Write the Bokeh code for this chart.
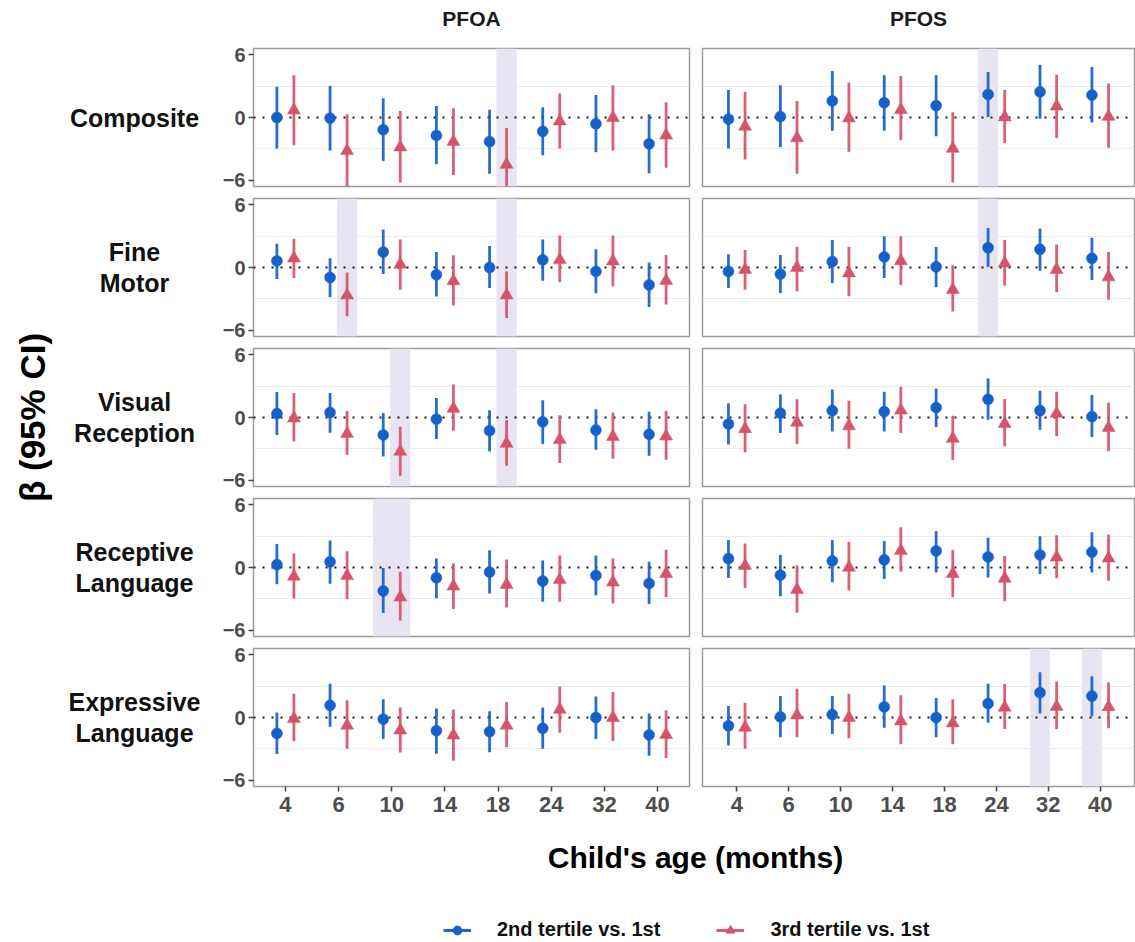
import math

from bokeh.core.properties import value
from bokeh.embed import file_html
from bokeh.layouts import column, row
from bokeh.models import (ColumnDataSource, FactorRange, FixedTicker, Label,
                          Legend, LegendItem, Range1d)
from bokeh.plotting import figure
from bokeh.resources import INLINE
from bokeh.transform import dodge

# ---------------------------------------------------------------- data
AGES = ["4", "6", "10", "14", "18", "24", "32", "40"]
EXPOSURES = ["PFOA", "PFOS"]
OUTCOMES = ["Composite", "Fine Motor", "Visual Reception",
            "Receptive Language", "Expressive Language"]
OUTCOME_LABELS = ["Composite", "Fine\nMotor", "Visual\nReception",
                  "Receptive\nLanguage", "Expressive\nLanguage"]
SERIES_LABELS = ["2nd tertile vs. 1st", "3rd tertile vs. 1st"]
Y_TICKS = [-6, 0, 6]
Y_GRID = [-3, 3]

# beta estimates with 95% CI, t2 = 2nd vs 1st tertile, t3 = 3rd vs 1st tertile
pfoa_composite = dict(
    t2_est=[0.00, -0.06, -1.17, -1.72, -2.30, -1.32, -0.60, -2.52],
    t2_lo=[-2.97, -3.16, -4.17, -4.48, -5.37, -3.60, -3.32, -5.34],
    t2_hi=[2.94, 3.03, 1.83, 1.10, 0.73, 0.98, 2.15, 0.32],
    t3_est=[0.69, -3.19, -2.85, -2.33, -4.50, -0.35, -0.03, -1.70],
    t3_lo=[-2.65, -6.70, -6.22, -5.49, -8.00, -2.97, -3.16, -4.80],
    t3_hi=[4.04, 0.32, 0.63, 0.88, -1.01, 2.30, 3.09, 1.45],
)
pfos_composite = dict(
    t2_est=[-0.16, 0.09, 1.58, 1.42, 1.14, 2.21, 2.46, 2.15],
    t2_lo=[-2.97, -2.84, -1.26, -1.26, -1.80, 0.05, -0.12, -0.47],
    t2_hi=[2.62, 3.09, 4.45, 4.04, 4.04, 4.36, 5.05, 4.83],
    t3_est=[-0.85, -1.96, -0.06, 0.73, -2.97, 0.03, 1.07, 0.09],
    t3_lo=[-4.01, -5.37, -3.28, -2.18, -6.22, -2.43, -1.96, -2.90],
    t3_hi=[2.46, 1.58, 3.35, 3.98, 0.50, 2.62, 4.10, 3.25],
)
pfoa_fine_motor = dict(
    t2_est=[0.63, -0.95, 1.48, -0.69, 0.00, 0.73, -0.38, -1.67],
    t2_lo=[-1.10, -2.84, -0.63, -2.78, -1.96, -1.26, -2.46, -3.79],
    t2_hi=[2.27, 0.88, 3.63, 1.48, 2.05, 2.68, 1.74, 0.47],
    t3_est=[0.88, -2.65, 0.28, -1.29, -2.65, 0.73, 0.60, -1.26],
    t3_lo=[-1.01, -4.67, -2.12, -3.63, -4.83, -1.42, -1.80, -3.54],
    t3_hi=[2.75, -0.47, 2.68, 1.17, -0.38, 3.06, 3.06, 1.20],
)
pfos_fine_motor = dict(
    t2_est=[-0.38, -0.63, 0.57, 1.01, 0.06, 1.89, 1.74, 0.88],
    t2_lo=[-1.96, -2.43, -1.48, -1.01, -1.89, 0.05, -0.32, -1.20],
    t2_hi=[1.26, 1.20, 2.62, 3.00, 1.96, 3.79, 3.73, 2.84],
    t3_est=[-0.22, -0.03, -0.54, 0.63, -2.12, 0.41, -0.22, -0.92],
    t3_lo=[-2.12, -2.27, -2.75, -1.67, -4.20, -1.74, -2.37, -3.09],
    t3_hi=[1.67, 1.96, 1.99, 3.00, 0.22, 2.62, 2.21, 1.48],
)
pfoa_visual_reception = dict(
    t2_est=[0.38, 0.47, -1.67, -0.16, -1.26, -0.41, -1.20, -1.61],
    t2_lo=[-1.67, -1.45, -3.73, -2.05, -3.25, -2.53, -3.09, -3.66],
    t2_hi=[2.43, 2.34, 0.44, 1.86, 0.69, 1.64, 0.79, 0.54],
    t3_est=[-0.06, -1.55, -3.25, 0.85, -2.49, -2.12, -1.83, -1.80],
    t3_lo=[-2.30, -3.57, -5.56, -1.26, -4.61, -4.36, -3.95, -4.04],
    t3_hi=[2.34, 0.63, -0.88, 3.16, -0.25, 0.22, 0.47, 0.63],
)
pfos_visual_reception = dict(
    t2_est=[-0.63, 0.41, 0.66, 0.57, 0.95, 1.74, 0.66, 0.09],
    t2_lo=[-2.59, -1.48, -1.33, -1.33, -0.92, -0.22, -1.17, -1.86],
    t2_hi=[1.36, 2.21, 2.68, 2.46, 2.78, 3.73, 2.56, 2.15],
    t3_est=[-1.10, -0.47, -0.82, 0.69, -2.02, -0.60, 0.38, -0.98],
    t3_lo=[-3.32, -2.53, -3.00, -1.48, -4.07, -2.75, -1.80, -3.22],
    t3_hi=[1.26, 1.74, 1.61, 2.94, 0.16, 1.77, 2.46, 1.42],
)
pfoa_receptive_language = dict(
    t2_est=[0.28, 0.54, -2.24, -0.98, -0.44, -1.29, -0.76, -1.52],
    t2_lo=[-1.61, -1.55, -4.36, -2.94, -2.49, -3.28, -2.65, -3.50],
    t2_hi=[2.24, 2.59, -0.05, 0.85, 1.64, 0.66, 1.14, 0.54],
    t3_est=[-0.85, -0.79, -2.84, -1.80, -1.64, -1.17, -1.42, -0.60],
    t3_lo=[-2.97, -3.03, -5.08, -3.98, -3.82, -3.28, -3.44, -2.81],
    t3_hi=[1.33, 1.55, -0.41, 0.38, 0.76, 1.14, 0.85, 1.70],
)
pfos_receptive_language = dict(
    t2_est=[0.85, -0.73, 0.63, 0.73, 1.58, 1.01, 1.20, 1.48],
    t2_lo=[-1.01, -2.75, -1.42, -1.10, -0.47, -0.95, -0.63, -0.47],
    t2_hi=[2.62, 1.20, 2.62, 2.53, 3.47, 2.84, 3.00, 3.38],
    t3_est=[0.16, -2.12, 0.00, 1.61, -0.60, -1.04, 0.98, 0.88],
    t3_lo=[-1.96, -4.33, -2.21, -0.41, -2.84, -3.22, -1.04, -1.26],
    t3_hi=[2.30, 0.22, 2.43, 3.85, 1.67, 1.10, 3.09, 3.16],
)
pfoa_expressive_language = dict(
    t2_est=[-1.52, 1.17, -0.16, -1.26, -1.36, -1.04, 0.00, -1.67],
    t2_lo=[-3.50, -0.88, -2.05, -3.47, -3.32, -3.00, -2.05, -3.66],
    t2_hi=[0.47, 3.22, 1.74, 0.85, 0.60, 0.95, 2.02, 0.38],
    t3_est=[-0.13, -0.76, -1.23, -1.70, -0.76, 0.76, -0.03, -1.64],
    t3_lo=[-2.24, -3.00, -3.35, -4.14, -2.84, -1.45, -2.24, -3.88],
    t3_hi=[2.27, 1.64, 0.95, 0.76, 1.48, 2.97, 2.43, 0.69],
)
pfos_expressive_language = dict(
    t2_est=[-0.79, 0.06, 0.28, 1.01, 0.00, 1.33, 2.37, 2.05],
    t2_lo=[-2.68, -1.89, -1.58, -0.98, -1.89, -0.51, 0.38, 0.13],
    t2_hi=[1.10, 2.05, 2.05, 3.06, 1.86, 3.22, 4.33, 3.95],
    t3_est=[-0.95, 0.22, -0.03, -0.35, -0.54, 0.95, 1.04, 1.01],
    t3_lo=[-3.00, -1.89, -1.99, -2.56, -2.56, -1.10, -1.10, -1.04],
    t3_hi=[1.42, 2.75, 2.27, 2.12, 1.74, 3.22, 3.44, 3.38],
)

PANEL_DATA = {
    ("PFOA", "Composite"): pfoa_composite,
    ("PFOS", "Composite"): pfos_composite,
    ("PFOA", "Fine Motor"): pfoa_fine_motor,
    ("PFOS", "Fine Motor"): pfos_fine_motor,
    ("PFOA", "Visual Reception"): pfoa_visual_reception,
    ("PFOS", "Visual Reception"): pfos_visual_reception,
    ("PFOA", "Receptive Language"): pfoa_receptive_language,
    ("PFOS", "Receptive Language"): pfos_receptive_language,
    ("PFOA", "Expressive Language"): pfoa_expressive_language,
    ("PFOS", "Expressive Language"): pfos_expressive_language,
}

# ---------------------------------------------------------------- style
FONT = "Liberation Sans"
BLUE = "#1661C9"
RED = "#D5546B"
BAND = "#E8E4F1"
BORDER = "#9C9C9C"
TICK_TEXT = "#4D4D4D"
Y_MIN, Y_MAX = -6.6, 6.6
DODGE = 0.16
BAND_W = 0.38

FRAME_H = 138
FRAME_W = [436, 432]
PAD_X = [0.1, 0.16]
STRIP_H = 42          # facet strip above the panels
INNER = 6
LEFT_W = 213
AXIS_L = 40
AXIS_B = 42
GAP_L, GAP_R = 6, 7   # spacing between the two panel columns
PAGE_W, PAGE_H = 1135, 942

SERIES = [("t2", -DODGE, BLUE, "circle", 11),
          ("t3", DODGE, RED, "triangle", 13)]


def make_panel(r, c):
    exposure, outcome = EXPOSURES[c], OUTCOMES[r]
    d = PANEL_DATA[(exposure, outcome)]
    last = len(OUTCOMES) - 1
    p = figure(
        x_range=FactorRange(factors=AGES, range_padding=PAD_X[c],
                            range_padding_units="absolute"),
        y_range=Range1d(Y_MIN, Y_MAX),
        frame_width=FRAME_W[c], frame_height=FRAME_H,
        min_border_top=INNER,
        min_border_bottom=AXIS_B if r == last else INNER,
        min_border_left=AXIS_L if c == 0 else GAP_R,
        min_border_right=GAP_L if c == 0 else 1,
        output_backend="svg", toolbar_location=None,
        background_fill_color="white", border_fill_color="white",
    )

    # shaded bands behind estimates whose CI excludes zero
    for key, off, color, marker, size in SERIES:
        lo, hi = d[key + "_lo"], d[key + "_hi"]
        sig = [a for a, l, h in zip(AGES, lo, hi) if l > 0 or h < 0]
        if sig:
            p.vbar(x=dodge("age", off, range=p.x_range), width=BAND_W,
                   bottom=Y_MIN, top=Y_MAX,
                   source=ColumnDataSource(dict(age=sig)),
                   fill_color=BAND, line_color=None)

    p.hspan(y=[0], line_color="#1A1A1A", line_width=2, line_dash="2 7")

    for key, off, color, marker, size in SERIES:
        src = ColumnDataSource(dict(age=AGES, est=d[key + "_est"],
                                    lo=d[key + "_lo"], hi=d[key + "_hi"]))
        xd = dodge("age", off, range=p.x_range)
        p.segment(x0=xd, y0="lo", x1=xd, y1="hi", source=src,
                  line_color=color, line_width=2.8, line_alpha=0.92)
        p.scatter(x=xd, y="est", source=src, marker=marker, size=size,
                  fill_color=color, line_color=color, line_width=0.5)

    p.xgrid.visible = False
    p.ygrid.ticker = FixedTicker(ticks=Y_GRID)
    p.ygrid.grid_line_color = "#EBEBEB"
    p.ygrid.grid_line_width = 1
    p.yaxis.ticker = FixedTicker(ticks=Y_TICKS)
    p.outline_line_color = BORDER
    p.outline_line_width = 1.5
    for ax in p.axis:
        ax.axis_line_color = None
        ax.major_tick_in = 0
        ax.major_tick_out = 5
        ax.minor_tick_out = 0
        ax.minor_tick_in = 0
        ax.major_tick_line_color = "#444444"
        ax.major_tick_line_width = 1.5
        ax.major_label_text_font = FONT
        ax.major_label_text_font_style = "bold"
        ax.major_label_text_color = TICK_TEXT
    p.xaxis.major_label_text_font_size = "22px"
    p.yaxis.major_label_text_font_size = "20px"
    p.yaxis.major_label_standoff = 3
    p.xaxis.major_label_standoff = 5
    if c != 0:
        p.yaxis.visible = False
    if r != last:
        p.xaxis.visible = False
    return p


panels = [[make_panel(r, c) for r in range(len(OUTCOMES))] for c in range(2)]

row_step = FRAME_H + 2 * INNER
stack_h = (len(OUTCOMES) - 1) * row_step + INNER + FRAME_H + AXIS_B
first_center = INNER + FRAME_H / 2

# facet strip with the exposure names centred over each panel column
strip = figure(width=PAGE_W, height=STRIP_H, x_range=Range1d(0, PAGE_W),
               y_range=Range1d(0, STRIP_H), min_border=0, output_backend="svg",
               toolbar_location=None, outline_line_color=None,
               background_fill_color="white", border_fill_color="white")
strip.axis.visible = False
strip.grid.visible = False
col_left = [LEFT_W + AXIS_L,
            LEFT_W + AXIS_L + FRAME_W[0] + GAP_L + GAP_R]
strip.text(x=[col_left[c] + FRAME_W[c] / 2 for c in range(2)],
           y=[STRIP_H - 18] * 2, text=EXPOSURES, text_align="center",
           text_baseline="middle", text_font=value(FONT), text_font_size="21px",
           text_font_style="bold", text_color="#1A1A1A")

# left strip: overall y title and facet row labels
lf = figure(width=LEFT_W, height=stack_h, x_range=Range1d(0, LEFT_W),
            y_range=Range1d((stack_h - first_center) / row_step, -first_center / row_step),
            min_border=0, output_backend="svg", toolbar_location=None,
            outline_line_color=None, background_fill_color="white",
            border_fill_color="white")
lf.axis.visible = False
lf.grid.visible = False
lf.text(x=[134] * len(OUTCOMES), y=list(range(len(OUTCOMES))), text=OUTCOME_LABELS,
        text_align="center", text_baseline="middle", text_font=value(FONT),
        text_font_size="25px", text_font_style="bold", text_color="#111111",
        text_line_height=1.1)
lf.text(x=[32], y=[(len(OUTCOMES) - 1) / 2], text=["β (95% CI)"], angle=math.pi / 2,
        text_align="center", text_baseline="middle", text_font=value(FONT),
        text_font_size="35px", text_font_style="bold", text_color="#000000")

# bottom strip: x title and legend
bottom_h = PAGE_H - STRIP_H - stack_h
bf = figure(width=PAGE_W, height=bottom_h, x_range=Range1d(0, PAGE_W),
            y_range=Range1d(0, bottom_h), min_border=0, output_backend="svg",
            toolbar_location=None, outline_line_color=None,
            background_fill_color="white", border_fill_color="white")
bf.axis.visible = False
bf.grid.visible = False
bf.add_layout(Label(x=695, y=bottom_h - 29, text="Child's age (months)",
                    text_align="center", text_baseline="middle", text_font=FONT,
                    text_font_size="30px", text_font_style="bold",
                    text_color="#000000"))

# legend keys: hidden renderers that only supply the key glyphs
items = []
for (key, off, color, marker, size), label in zip(SERIES, SERIES_LABELS):
    ln = bf.line(x=[0, 1], y=[0, 0], line_color=color, line_width=2.8, visible=False)
    sc = bf.scatter(x=[0], y=[0], marker=marker, size=size - 1,
                    fill_color=color, line_color=color, visible=False)
    items.append(LegendItem(label=label, renderers=[ln, sc]))
legend = Legend(items=items, orientation="horizontal", location=(443, 1),
                padding=0, margin=0, spacing=56, glyph_width=28,
                glyph_height=22, label_height=22, label_standoff=26,
                label_text_font=FONT, label_text_font_size="20px",
                label_text_font_style="bold", label_text_color="#111111",
                border_line_color=None, background_fill_alpha=0)
bf.add_layout(legend)

layout = column(strip, row(lf, column(*panels[0]), column(*panels[1])), bf)

with open("out.html", "w") as f:
    f.write(file_html(layout, INLINE))
